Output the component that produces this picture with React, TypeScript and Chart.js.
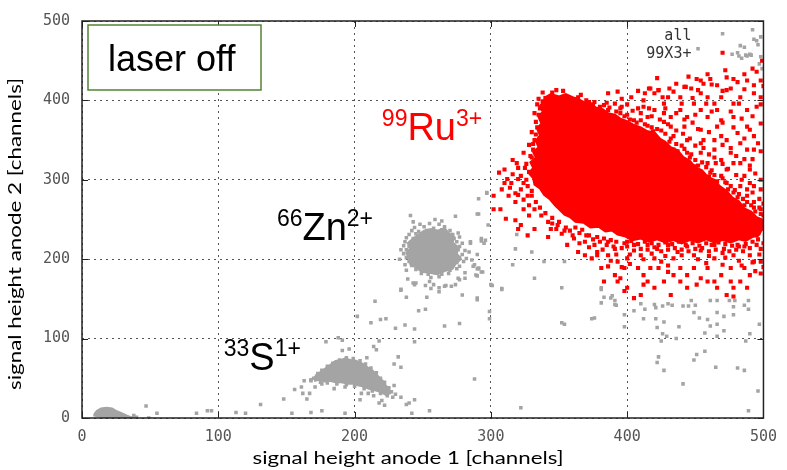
import React, { useEffect, useRef } from 'react';
import { Chart, registerables } from 'chart.js';

Chart.register(...registerables);

// ---------- data ----------
const AXIS_TICKS = [0, 100, 200, 300, 400, 500];
const X_TITLE = 'signal height anode 1 [channels]';
const Y_TITLE = 'signal height anode 2 [channels]';
const LEGEND_LABELS = ['all', '99X3+'];
const BOX_LABEL = 'laser off';

// dense core of the 99Ru3+ cloud (outline)
const ruCore: [number, number][] = [
  [340, 404], [344, 408], [350, 405], [355, 408], [360, 404], [364, 402], [368, 398], [373, 396],
  [377, 391], [382, 389], [386, 384], [391, 382], [395, 377], [400, 374], [405, 369], [410, 366],
  [415, 361], [420, 360], [424, 352], [428, 348], [432, 341], [437, 337], [441, 329], [446, 324],
  [450, 316], [455, 312], [459, 304], [464, 300], [468, 292], [473, 286], [477, 278], [482, 273],
  [486, 264], [491, 260], [495, 253], [499, 250], [499, 238], [497, 231], [492, 228], [487, 223],
  [482, 225], [476, 221], [470, 224], [464, 221], [458, 225], [452, 221], [446, 224], [440, 220],
  [434, 224], [428, 221], [422, 225], [416, 222], [410, 226], [404, 224], [398, 229], [393, 231],
  [389, 236], [384, 235], [379, 241], [373, 240], [368, 246], [362, 247], [358, 253], [354, 256],
  [350, 263], [347, 268], [343, 276], [339, 281], [336, 289], [332, 294], [331, 302], [328, 308],
  [331, 315], [329, 322], [333, 328], [331, 335], [335, 341], [333, 349], [336, 356], [334, 364],
  [337, 371], [335, 379], [338, 386], [336, 393], [339, 399], [340, 404],
];

// scattered 99Ru3+ events
const ruPoints: [number, number][] = [
  [306, 309], [302, 280], [302, 263], [308, 288], [312, 301], [315, 296], [307, 263], [311, 251],
  [318, 249], [322, 243], [320, 238], [328, 255], [324, 263], [318, 272], [319, 321], [324, 334],
  [328, 344], [333, 357], [333, 373], [335, 382], [313, 280], [327, 280], [322, 288], [332, 263],
  [337, 255], [342, 247], [344, 238], [349, 243], [354, 236], [327, 230], [342, 228], [332, 238],
  [310, 313], [316, 307], [320, 301], [325, 315], [330, 328], [331, 338],
  [361, 226], [356, 218], [364, 209], [374, 201], [381, 189], [383, 172], [391, 180], [398, 189],
  [400, 164], [405, 151], [410, 155], [415, 172], [420, 164], [427, 172], [432, 155], [439, 172],
  [444, 164], [451, 168], [459, 172], [466, 164], [473, 155], [478, 153], [483, 172], [490, 180],
  [498, 182], [493, 197], [486, 189], [476, 189], [469, 180], [459, 189], [449, 189], [439, 189],
  [430, 184], [417, 189], [408, 189], [400, 201], [393, 197], [386, 205], [410, 205], [420, 201],
  [434, 201], [449, 205], [464, 201], [478, 205], [490, 205], [498, 213], [495, 230], [481, 218],
  [464, 218], [444, 216], [430, 218], [415, 218], [400, 222], [386, 222], [376, 218], [369, 222],
  [378, 209], [391, 213], [405, 211], [422, 213], [437, 209], [454, 211], [471, 213], [486, 216],
  [386, 191], [395, 176], [412, 180], [423, 189], [444, 180], [454, 176], [464, 172], [476, 172],
  [478, 164], [488, 164], [498, 197], [398, 160], [412, 168], [434, 180], [425, 197], [393, 172],
  [369, 205],
  [353, 412], [364, 404], [383, 394], [393, 411], [416, 415], [423, 413], [395, 390], [408, 390],
  [416, 390], [427, 396], [430, 404], [434, 411], [443, 417], [454, 409], [464, 396], [473, 413],
  [483, 404], [493, 409], [495, 392], [459, 379], [469, 375], [478, 379], [488, 367], [498, 371],
  [490, 363], [469, 355], [454, 363], [442, 367], [432, 367], [427, 373], [419, 361], [425, 346],
  [434, 338], [444, 334], [454, 334], [464, 338], [476, 334], [493, 338], [498, 336], [486, 305],
  [490, 313], [483, 346], [465, 321], [473, 313], [488, 280], [493, 272], [498, 263], [495, 247],
  [490, 255], [483, 263], [478, 284], [473, 296], [483, 292], [493, 292], [469, 305], [478, 321],
  [488, 338], [449, 396], [439, 388], [454, 388], [469, 404], [478, 396], [488, 388], [498, 404],
  [434, 355], [444, 350], [454, 346], [459, 321], [449, 317], [456, 350], [466, 367], [473, 350],
  [481, 359], [493, 355], [461, 309], [469, 325], [483, 321], [490, 296], [498, 288], [498, 238],
  [427, 384], [410, 375], [400, 382], [391, 396], [376, 398], [386, 409], [403, 404], [412, 400],
  [439, 404], [459, 404], [420, 409], [444, 379], [432, 379], [415, 379],
  [470, 460], [499, 450], [486, 433], [492, 440], [495, 436], [478, 427], [472, 438], [473, 429],
  [459, 433], [461, 427], [456, 421], [454, 425], [422, 428], [417, 415], [423, 413], [413, 409],
  [436, 421], [442, 417], [431, 415], [481, 423], [488, 425], [493, 419], [498, 425], [476, 415],
  [466, 419], [447, 415], [452, 413],
  [365, 233], [372, 230], [378, 228], [383, 226], [388, 224], [392, 222], [398, 220], [403, 223],
  [408, 219], [413, 222], [418, 220], [423, 218], [428, 221], [433, 219], [438, 222], [443, 218],
  [448, 220], [453, 217], [458, 220], [462, 218], [467, 221], [472, 219], [477, 217], [482, 216],
  [487, 219], [492, 222], [496, 225], [355, 240], [350, 247], [345, 252], [340, 258], [336, 265],
  [333, 272], [330, 280], [395, 384], [405, 375], [415, 368], [425, 362], [432, 352], [440, 343],
  [447, 332], [455, 322], [462, 312], [470, 302], [476, 292], [482, 282], [488, 272], [493, 265],
  [498, 257], [387, 391], [372, 398], [366, 407],
  // upper-right fringe
  [370, 400], [375, 395], [380, 392], [386, 388], [392, 386], [398, 380], [402, 376], [407, 372],
  [413, 370], [418, 366], [422, 364], [428, 358], [431, 348], [436, 345], [437, 336], [442, 339],
  [446, 328], [450, 325], [452, 318], [458, 316], [460, 304], [464, 306], [466, 298], [472, 297],
  [474, 288], [479, 287], [481, 278], [485, 276], [486, 268], [491, 268], [494, 260], [497, 265],
  [500, 255], [385, 397], [396, 392], [404, 387], [410, 384], [418, 380], [424, 376], [430, 370],
  [436, 362], [441, 358], [446, 352], [450, 343], [456, 340], [460, 332], [464, 328], [470, 320],
  [474, 314], [480, 306], [484, 300], [488, 288], [492, 284], [497, 276], [500, 270], [400, 395],
  [412, 392], [420, 388], [428, 390], [436, 384], [442, 376], [448, 372], [452, 364], [460, 360],
  [464, 350], [470, 344], [476, 340], [480, 330], [486, 326], [490, 318], [494, 308], [498, 300],
  [492, 326], [496, 346], [486, 352], [478, 366], [470, 372], [462, 386], [450, 382], [396, 402],
  [408, 412], [426, 404], [440, 396], [448, 403], [458, 396], [466, 388], [476, 386], [484, 377],
  [492, 380], [498, 395], [482, 396], [470, 412], [462, 420], [451, 427], [445, 430], [486, 414],
  [500, 418],
  // left fringe
  [333, 300], [328, 310], [326, 320], [329, 330], [331, 345], [332, 350], [330, 360], [334, 366],
  [332, 384], [336, 390], [338, 399], [340, 403], [326, 300], [322, 305], [320, 315], [316, 325],
  [327, 292], [330, 286], [324, 296], [318, 283], [314, 290], [310, 296], [328, 268], [324, 275],
  [320, 281], [334, 395], [338, 410], [345, 410], [348, 413], [335, 402],
  // lower fringe
  [345, 245], [348, 238], [352, 232], [358, 236], [362, 240], [367, 237], [370, 230], [375, 225],
  [380, 222], [385, 218], [390, 216], [396, 214], [400, 216], [405, 218], [410, 213], [415, 212],
  [420, 215], [425, 210], [430, 212], [435, 214], [440, 212], [445, 210], [450, 213], [455, 214],
  [460, 210], [465, 212], [470, 208], [475, 210], [480, 212], [485, 210], [490, 214], [495, 218],
  [500, 220], [372, 215], [382, 212], [392, 206], [402, 206], [412, 200], [418, 207], [428, 204],
  [440, 205], [452, 200], [460, 204], [472, 202], [482, 198], [492, 196], [497, 206], [360, 230],
  [365, 220], [378, 205], [388, 198], [396, 190], [402, 194], [430, 192], [458, 195], [470, 193],
  [484, 192], [500, 190], [494, 185],
];

// dense cores of the grey groups (outlines)
const znCore: [number, number][] = [
  [240, 200], [238, 208], [241, 214], [239, 220], [243, 226], [247, 231], [251, 236], [256, 238],
  [261, 236], [266, 239], [269, 233], [273, 228], [272, 221], [276, 215], [275, 207], [278, 200],
  [274, 194], [272, 188], [266, 185], [261, 181], [255, 183], [249, 184], [246, 189], [241, 193],
  [240, 200],
];
const sCore: [number, number][] = [
  [171, 53], [175, 58], [180, 64], [183, 68], [186, 72], [190, 73], [193, 75], [197, 73],
  [201, 72], [205, 69], [208, 66], [210, 63], [213, 60], [216, 55], [218, 51], [221, 46],
  [223, 41], [225, 36], [226, 31], [223, 29], [219, 33], [215, 35], [210, 37], [206, 40],
  [203, 41], [199, 43], [196, 43], [190, 45], [186, 45], [182, 47], [178, 46], [174, 48],
  [171, 47], [171, 53],
];
const lowCore: [number, number][] = [
  [9, 5], [11, 9], [14, 12], [18, 13], [22, 12], [25, 9], [29, 6], [33, 3], [36, 1], [30, 0.5],
  [22, 1], [14, 1.5], [9, 3], [9, 5],
];

// scattered grey events ("all")
const grayPoints: [number, number][] = [
  // Zn group
  [248, 244], [255, 245], [262, 244], [244, 240], [251, 241], [258, 239], [266, 241], [242, 236],
  [247, 235], [253, 236], [260, 235], [264, 237], [270, 236], [240, 231], [245, 232], [250, 230],
  [256, 232], [261, 231], [267, 232], [272, 231], [238, 227], [243, 226], [248, 228], [253, 226],
  [258, 227], [263, 226], [268, 227], [273, 226], [277, 228], [237, 222], [241, 221], [246, 223],
  [251, 221], [256, 222], [261, 221], [265, 223], [270, 221], [275, 222], [279, 220], [236, 217],
  [240, 216], [245, 218], [250, 216], [254, 217], [259, 216], [264, 218], [268, 216], [273, 217],
  [277, 216], [238, 212], [243, 211], [247, 213], [252, 211], [257, 212], [262, 211], [266, 213],
  [271, 211], [276, 212], [281, 211], [236, 207], [241, 206], [246, 208], [250, 206], [255, 207],
  [260, 206], [264, 208], [269, 206], [274, 207], [279, 206], [238, 202], [243, 201], [248, 203],
  [253, 201], [258, 202], [262, 201], [267, 203], [272, 201], [277, 202], [282, 201], [240, 197],
  [245, 196], [250, 198], [255, 196], [260, 197], [265, 196], [270, 198], [275, 196], [280, 197],
  [242, 192], [247, 191], [252, 193], [257, 191], [262, 192], [267, 191], [272, 193], [277, 191],
  [245, 187], [250, 186], [255, 188], [260, 186], [265, 187], [270, 186], [275, 188], [249, 182],
  [254, 181], [259, 183], [264, 181], [269, 182], [256, 177], [262, 178],
  [241, 255], [243, 247], [259, 250], [264, 248], [274, 254], [290, 257], [297, 283], [234, 212],
  [233, 200], [237, 193], [243, 170], [234, 162], [238, 152], [253, 152], [255, 172], [262, 164],
  [267, 167], [274, 168], [276, 176], [281, 176], [285, 220], [290, 206], [287, 191], [290, 188],
  [294, 184], [290, 179], [293, 223], [295, 220], [276, 233], [284, 209], [286, 199], [281, 183],
  [239, 175], [245, 170], [252, 167], [258, 168], [308, 163], [290, 151],
  // between groups
  [238, 186], [244, 168], [234, 161], [215, 147], [252, 137], [247, 135], [219, 124], [223, 125],
  [212, 120], [230, 113], [237, 117], [244, 112], [266, 116], [277, 119], [290, 149], [279, 155],
  [271, 166], [262, 159], [256, 163], [266, 166], [277, 174], [289, 180], [291, 188], [301, 167],
  [299, 134], [299, 125], [202, 128], [179, 96], [188, 101], [196, 87], [191, 85], [214, 90],
  [216, 86], [218, 97], [244, 96], [209, 76], [232, 77], [229, 68], [234, 64], [288, 49], [191, 98],
  // S group
  [170, 50], [173, 56], [176, 60], [180, 65], [184, 69], [189, 73], [194, 76], [199, 75],
  [204, 72], [208, 68], [212, 63], [216, 57], [219, 50], [222, 45], [225, 38], [227, 33],
  [224, 28], [219, 31], [213, 34], [207, 37], [200, 40], [194, 42], [187, 43], [180, 44],
  [175, 45], [168, 48], [230, 30], [228, 26], [220, 22], [214, 28],
  [229, 41], [225, 37], [156, 36], [161, 39], [163, 47], [168, 47], [171, 39], [176, 43],
  [185, 37], [165, 24], [162, 31], [167, 31], [193, 39], [205, 31], [210, 31], [204, 23],
  [222, 16], [218, 19], [234, 26], [240, 19], [244, 23], [238, 17], [242, 6], [255, 9],
  // low row / low group
  [322, 13], [47, 15], [55, 6], [84, 6], [92, 9], [95, 9], [113, 7], [120, 6], [131, 17],
  [148, 24], [154, 6], [168, 7], [176, 9], [193, 6], [49, 0], [28, 0], [35, 0], [40, 1], [38, 3],
  // under / around the Ru cloud
  [297, 284], [291, 276], [291, 257], [298, 243], [293, 226], [285, 222], [296, 224], [319, 231],
  [318, 213], [330, 209], [316, 193], [339, 197], [354, 197], [288, 193], [291, 189], [293, 184],
  [308, 162], [300, 168], [332, 176], [381, 164], [388, 151], [391, 143], [398, 130],
  [405, 135], [376, 126],
  [352, 164], [352, 120], [354, 118], [374, 125], [381, 162], [383, 152], [381, 145], [389, 154],
  [391, 148], [392, 142], [398, 115], [410, 144], [413, 137], [420, 143], [421, 139],
  [426, 141], [430, 144], [433, 142], [441, 141], [445, 141], [447, 148], [450, 142], [461, 148],
  [466, 148], [475, 148], [479, 148], [486, 142], [489, 148], [489, 137], [478, 140], [466, 133],
  [471, 128], [478, 130], [412, 125], [421, 125], [427, 121], [422, 114], [438, 115], [449, 133],
  [453, 126], [459, 124], [461, 116], [466, 118], [471, 110], [457, 107], [466, 103], [490, 106],
  [497, 118], [487, 97], [426, 106], [429, 103], [425, 97], [436, 100], [423, 77], [422, 70],
  [427, 60], [451, 80], [457, 84], [449, 73], [465, 64], [481, 63], [486, 60], [441, 43], [496, 34],
  [489, 9],
  // top right
  [470, 484], [492, 489], [493, 477], [495, 475], [483, 469], [486, 467], [490, 458], [482, 456],
  [484, 453], [488, 456], [498, 455], [477, 458], [481, 460], [487, 457], [491, 457], [452, 465],
  [497, 446], [499, 440], [496, 470], [498, 480],
];

// ion labels: mass number, element, charge, anchor (data units, baseline-left)
const IONS = [
  { mass: '99', el: 'Ru', charge: '3+', ax: 220, ay: 350, color: '#ff0000' },
  { mass: '66', el: 'Zn', charge: '2+', ax: 143, ay: 224, color: '#000000' },
  { mass: '33', el: 'S', charge: '1+', ax: 104, ay: 60, color: '#000000' },
];

const RED = '#ff0000';
const GREY = '#a4a4a4';

const toXY = (arr: [number, number][]) => arr.map(([x, y]) => ({ x, y }));

function fitText(ctx: CanvasRenderingContext2D, text: string, width: number) {
  const w = ctx.measureText(text).width;
  ctx.scale(width / w, 1);
}

const overlay = {
  id: 'overlay',
  afterDatasetsDraw(chart: any) {
    const { ctx, chartArea: a, scales } = chart;
    const xs = scales.x;
    const ys = scales.y;
    ctx.save();

    // inner tick marks on all four sides
    ctx.strokeStyle = '#222';
    ctx.lineWidth = 1;
    ctx.setLineDash([]);
    AXIS_TICKS.forEach((v) => {
      const px = Math.round(xs.getPixelForValue(v)) + 0.5;
      const py = Math.round(ys.getPixelForValue(v)) + 0.5;
      ctx.beginPath();
      ctx.moveTo(px, a.bottom); ctx.lineTo(px, a.bottom - 6);
      ctx.moveTo(px, a.top); ctx.lineTo(px, a.top + 6);
      ctx.moveTo(a.left, py); ctx.lineTo(a.left + 6, py);
      ctx.moveTo(a.right, py); ctx.lineTo(a.right - 6, py);
      ctx.stroke();
    });

    // frame
    ctx.strokeStyle = '#222';
    ctx.lineWidth = 1.5;
    ctx.strokeRect(a.left, a.top, a.right - a.left, a.bottom - a.top);

    // "laser off" box
    const bx = a.left + 6;
    const by = a.top + 4;
    ctx.fillStyle = '#ffffff';
    ctx.fillRect(bx, by, 173, 65);
    ctx.strokeStyle = '#548235';
    ctx.lineWidth = 1.5;
    ctx.strokeRect(bx, by, 173, 65);
    ctx.fillStyle = '#000';
    ctx.font = '36px "Liberation Sans", Arial, sans-serif';
    ctx.textAlign = 'left';
    ctx.textBaseline = 'alphabetic';
    ctx.fillText(BOX_LABEL, bx + 20, by + 46);

    // legend text
    ctx.font = '15px "DejaVu Sans Mono", monospace';
    ctx.fillStyle = '#333';
    ctx.textAlign = 'right';
    ctx.fillText(LEGEND_LABELS[0], a.right - 72, a.top + 19);
    ctx.fillText(LEGEND_LABELS[1], a.right - 72, a.top + 37);

    // ion labels
    ctx.textAlign = 'left';
    IONS.forEach((ion) => {
      let x = xs.getPixelForValue(ion.ax);
      const y = ys.getPixelForValue(ion.ay);
      ctx.fillStyle = ion.color;
      ctx.font = '23px "Liberation Sans", Arial, sans-serif';
      ctx.fillText(ion.mass, x, y - 14);
      x += ctx.measureText(ion.mass).width;
      ctx.font = '38px "Liberation Sans", Arial, sans-serif';
      ctx.fillText(ion.el, x, y);
      x += ctx.measureText(ion.el).width;
      ctx.font = '23px "Liberation Sans", Arial, sans-serif';
      ctx.fillText(ion.charge, x, y - 14);
    });

    // axis titles
    ctx.fillStyle = '#000';
    ctx.font = '18px Lato, "Open Sans", sans-serif';
    ctx.textAlign = 'center';
    ctx.save();
    ctx.translate(408, 464);
    fitText(ctx, X_TITLE, 311);
    ctx.fillText(X_TITLE, 0, 0);
    ctx.restore();
    ctx.save();
    ctx.translate(21, 234);
    ctx.rotate(-Math.PI / 2);
    fitText(ctx, Y_TITLE, 312);
    ctx.fillText(Y_TITLE, 0, 0);
    ctx.restore();

    ctx.restore();
  },
};

export default function App() {
  const ref = useRef<HTMLCanvasElement>(null);

  useEffect(() => {
    if (!ref.current) return;
    const polygon = (pts: [number, number][], color: string, order: number) => ({
      data: toXY(pts),
      showLine: true,
      fill: 'shape',
      backgroundColor: color,
      borderColor: color,
      borderWidth: 2,
      pointRadius: 0,
      tension: 0,
      order,
      clip: 0,
    });
    const scatter = (pts: [number, number][], color: string, r: number, order: number) => ({
      data: toXY(pts),
      showLine: false,
      pointStyle: 'rect',
      pointRadius: r,
      backgroundColor: color,
      borderWidth: 0,
      order,
      clip: 0,
    });
    const tickFont = { family: '"DejaVu Sans Mono", monospace', size: 15 };
    const chart = new Chart(ref.current, {
      type: 'scatter',
      data: {
        datasets: [
          polygon(ruCore, RED, 0) as any,
          scatter(ruPoints, RED, 2.9, 0) as any,
          polygon(znCore, GREY, 1) as any,
          polygon(sCore, GREY, 1) as any,
          polygon(lowCore, GREY, 1) as any,
          scatter(grayPoints, GREY, 2.5, 2) as any,
        ],
      },
      options: {
        animation: false,
        responsive: false,
        devicePixelRatio: 1,
        events: [],
        layout: { padding: { top: 16, right: 21, left: 0, bottom: 0 } },
        plugins: { legend: { display: false }, tooltip: { enabled: false } },
        scales: {
          x: {
            type: 'linear',
            min: 0,
            max: 500,
            afterBuildTicks: (s: any) => { s.ticks = AXIS_TICKS.map((v) => ({ value: v })); },
            afterFit: (s: any) => { s.height = 52; },
            ticks: { font: tickFont, color: '#555', padding: 10, maxRotation: 0, autoSkip: false },
            grid: { color: '#555', lineWidth: 1, drawTicks: false },
            border: { display: false, dash: [2, 4] },
          },
          y: {
            type: 'linear',
            min: 0,
            max: 500,
            afterBuildTicks: (s: any) => { s.ticks = AXIS_TICKS.map((v) => ({ value: v })); },
            afterFit: (s: any) => { s.width = 82; },
            ticks: { font: tickFont, color: '#555', padding: 12, autoSkip: false },
            grid: { color: '#555', lineWidth: 1, drawTicks: false },
            border: { display: false, dash: [2, 4] },
          },
        },
      } as any,
      plugins: [overlay],
    });
    return () => chart.destroy();
  }, []);

  return (
    <div style={{ position: 'absolute', left: 0, top: 0, width: 787, height: 470 }}>
      <canvas ref={ref} width={787} height={470} style={{ display: 'block' }} />
    </div>
  );
}
